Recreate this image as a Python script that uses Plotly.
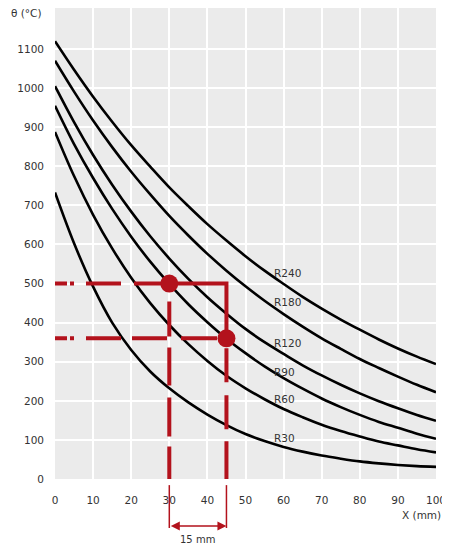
import plotly.graph_objects as go

# abscissa X (mm) and curve values theta (degC)
x_mm = [0, 5, 10, 15, 20, 25, 30, 35, 40, 45, 50, 55, 60, 65, 70, 75, 80, 85, 90, 95, 100]
r240 = [1120, 1047, 978, 914, 854, 799, 746, 698, 652, 610, 570, 533, 499, 466, 436, 408, 382, 357, 334, 313, 294]
r180 = [1070, 991, 917, 849, 786, 728, 673, 623, 576, 533, 493, 456, 422, 390, 360, 333, 307, 284, 262, 241, 222]
r120 = [1005, 913, 829, 753, 684, 621, 564, 512, 465, 423, 384, 350, 320, 291, 265, 241, 219, 199, 181, 164, 149]
r90 = [955, 857, 770, 691, 620, 556, 499, 447, 401, 359, 322, 288, 258, 231, 206, 184, 164, 146, 131, 116, 103]
r60 = [888, 775, 676, 590, 515, 450, 394, 345, 302, 264, 232, 204, 179, 158, 139, 123, 109, 96, 86, 76, 68]
r30 = [733, 603, 492, 400, 330, 275, 232, 196, 165, 138, 115, 97, 82, 70, 60, 52, 45, 40, 36, 33, 31]

curve_names = ['R240', 'R180', 'R120', 'R90', 'R60', 'R30']
label_x = 57
label_y = [526, 452, 347, 273, 204, 105]

# worked example: 30 mm -> 500 degC, 45 mm -> 360 degC
ex_x = [30, 45]
ex_y = [500, 360]
ex_text = '15 mm'

x_ticks = list(range(0, 101, 10))
y_ticks = list(range(0, 1101, 100))

red = '#b3121c'
font = dict(family='Verdana, DejaVu Sans, sans-serif', size=10.5, color='#333')

fig = go.Figure()
for name, vals in zip(curve_names, [r240, r180, r120, r90, r60, r30]):
    fig.add_trace(go.Scatter(x=x_mm, y=vals, mode='lines', name=name,
                             line=dict(color='black', width=2.6, shape='spline', smoothing=1)))

# dashed construction lines
fig.add_trace(go.Scatter(x=[0, ex_x[0]], y=[ex_y[0], ex_y[0]], mode='lines',
                         line=dict(color=red, width=4, dash='12px,3px,4px,12px,35px,13px,34px,60px')))
fig.add_trace(go.Scatter(x=[0, ex_x[1]], y=[ex_y[1], ex_y[1]], mode='lines',
                         line=dict(color=red, width=4, dash='12px,3px,4px,12px,35px,11px,35px,14px,36px,60px')))
fig.add_trace(go.Scatter(x=[ex_x[0], ex_x[0]], y=[ex_y[0], 0], mode='lines',
                         line=dict(color=red, width=4, dash='0px,18px,35px,11px,38px,12px,39px,10px,40px,40px')))
fig.add_trace(go.Scatter(x=[ex_x[1], ex_x[1]], y=[ex_y[1], 0], mode='lines',
                         line=dict(color=red, width=4, dash='0px,10px,34px,13px,34px,12px,40px,40px')))
# solid step 30 -> 45 mm
fig.add_trace(go.Scatter(x=[ex_x[0], ex_x[1], ex_x[1]], y=[ex_y[0], ex_y[0], ex_y[1]], mode='lines',
                         line=dict(color=red, width=4)))
fig.add_trace(go.Scatter(x=ex_x, y=ex_y, mode='markers',
                         marker=dict(color=red, size=18)))

# dimension below the axis
for xv in ex_x:
    fig.add_shape(type='line', xref='x', yref='paper', x0=xv, x1=xv, y0=-0.013, y1=-0.104,
                  line=dict(color=red, width=1.5))
fig.add_annotation(x=ex_x[1], y=-0.100, xref='x', yref='paper', ax=ex_x[0], ay=0, axref='x', ayref='pixel',
                   text='', showarrow=True, arrowside='end+start', arrowhead=2, arrowsize=1.2,
                   arrowwidth=1.5, arrowcolor=red)
fig.add_annotation(x=sum(ex_x) / 2, y=-0.129, xref='x', yref='paper', text=ex_text, showarrow=False,
                   xanchor='center', yanchor='middle',
                   font=dict(family='Verdana, DejaVu Sans, sans-serif', size=10, color='#333'))

for name, ly in zip(curve_names, label_y):
    fig.add_annotation(x=label_x, y=ly, text=name, showarrow=False, xanchor='left', yanchor='middle', font=font)

fig.add_annotation(x=-0.029, y=0.989, xref='paper', yref='paper', text='θ (°C)', showarrow=False,
                   xanchor='right', yanchor='middle', font=font)
fig.add_annotation(x=1.018, y=-0.076, xref='paper', yref='paper', text='X (mm)', showarrow=False,
                   xanchor='right', yanchor='middle', font=font)

# the page body has an 8 px margin, so the figure is 8 px smaller each way
fig.update_layout(
    width=442, height=546,
    margin=dict(l=47, r=14, t=0, b=75, autoexpand=False),
    paper_bgcolor='white', plot_bgcolor='#ebebeb',
    showlegend=False,
    font=font,
    xaxis=dict(range=[0, 100], tickvals=x_ticks, showgrid=True, gridcolor='white', gridwidth=2,
               zeroline=False, showline=False, ticks='', ticklabelstandoff=13, automargin=False,
               fixedrange=True),
    yaxis=dict(range=[0, 1205], tickvals=y_ticks, showgrid=True, gridcolor='white', gridwidth=2,
               zeroline=False, showline=False, ticks='', ticklabelstandoff=10, automargin=False,
               fixedrange=True),
)
fig.write_html('out.html')
